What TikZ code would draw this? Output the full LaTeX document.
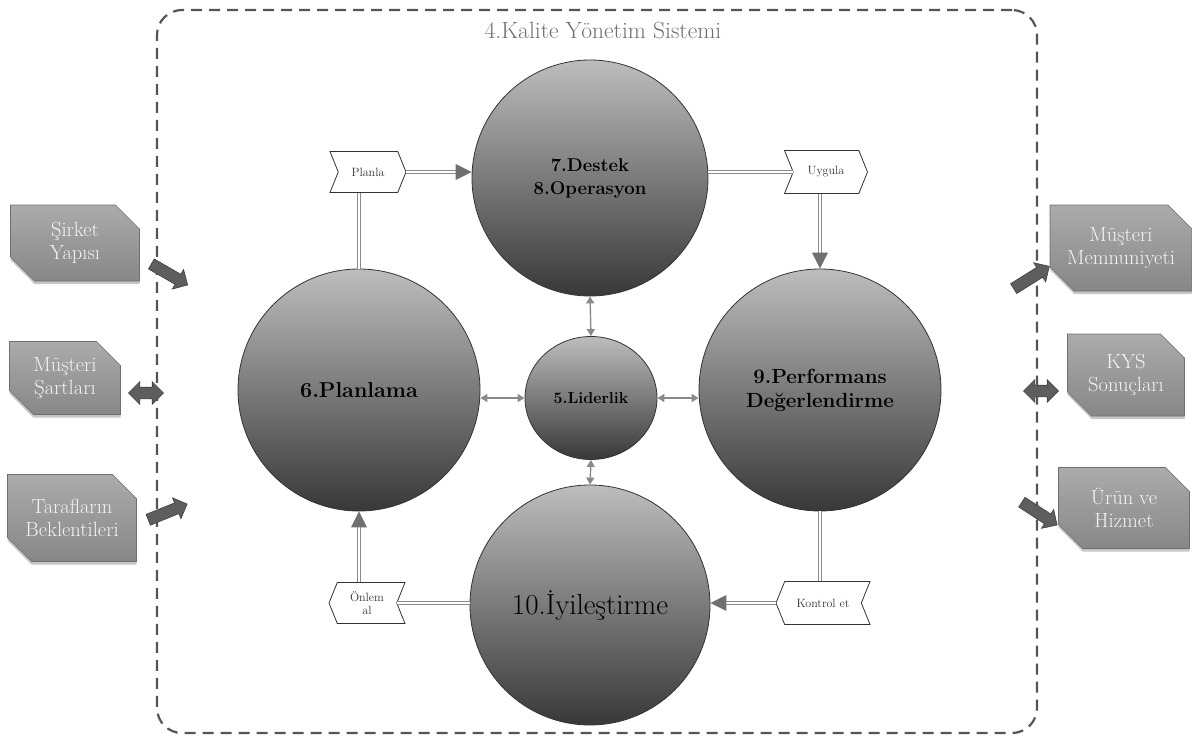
\documentclass[tikz,border=0pt]{standalone}
\usetikzlibrary{shapes.geometric,shapes.symbols,shapes.misc,shapes.arrows,arrows.meta,shadows,calc}
\definecolor{dashc}{HTML}{555555}
\definecolor{titlec}{HTML}{707070}
\definecolor{ctop}{HTML}{BDBDBD}
\definecolor{cbot}{HTML}{383838}
\definecolor{cedge}{HTML}{333333}
\definecolor{btop}{HTML}{ABABAB}
\definecolor{bbot}{HTML}{878787}
\definecolor{bedge}{HTML}{6E6E6E}
\definecolor{btext}{HTML}{F4F4F4}
\definecolor{linec}{HTML}{8A8A8A}
\definecolor{tipc}{HTML}{707070}
\definecolor{arrf}{HTML}{5E5E5E}
\definecolor{arre}{HTML}{3E3E3E}
\definecolor{chevc}{HTML}{333333}
\begin{document}
\begin{tikzpicture}[x=1pt,y=-1pt,
  frame/.style={draw=dashc, line width=2.2pt, dash pattern=on 11pt off 7pt, rounded corners=25pt, minimum width=880pt, minimum height=723pt, inner sep=0},
  circ/.style={circle, draw=cedge, line width=0.8pt, top color=ctop, bottom color=cbot, inner sep=0, align=center, text=black},
  chev/.style={signal, draw=chevc, line width=0.8pt, fill=white, signal pointer angle=136, minimum width=76pt, minimum height=41pt, inner sep=0, align=center, text=chevc, font=\fontsize{12}{13.5}\selectfont},
  gbox/.style={chamfered rectangle, chamfered rectangle corners={north east,south west}, chamfered rectangle xsep=12pt, chamfered rectangle ysep=12pt, top color=btop, bottom color=bbot, draw=bedge, line width=0.6pt, text=btext, align=center, inner sep=0, font=\fontsize{20.5}{23}\selectfont, drop shadow={shadow xshift=0pt, shadow yshift=-3pt, opacity=0.45}},
  dbl/.style={draw=linec, double=white, double distance=2.2pt, line width=1pt},
  lid/.style={draw=linec, line width=1.4pt, {Triangle[length=7pt,width=8pt]}-{Triangle[length=7pt,width=8pt]}},
  barr/.style={single arrow, single arrow head extend=5.5pt, single arrow head indent=0pt, fill=arrf, draw=arre, line width=0.6pt, minimum height=42pt, inner xsep=0pt, inner ysep=5.5pt},
  bdarr/.style={double arrow, double arrow head extend=5.5pt, fill=arrf, draw=arre, line width=0.6pt, minimum height=35pt, inner xsep=0pt, inner ysep=5.5pt}
]
\useasboundingbox (0,0) rectangle (1192,742);

\node[frame] (frame) at (597,371.5) {};
\node[text=titlec, font=\fontsize{23.5}{27}\selectfont] (title) at (603,30) {4.Kalite Yönetim Sistemi};

% circles
\node[circ, minimum size=236pt, font=\bfseries\fontsize{18.5}{23}\selectfont] (c7) at (590,178) {7.Destek\\8.Operasyon};
\node[circ, minimum size=242pt, font=\bfseries\fontsize{21.5}{24}\selectfont] (c6) at (359,390) {6.Planlama};
\node[circ, minimum size=242pt, font=\bfseries\fontsize{20.5}{24}\selectfont] (c9) at (820,390) {9.Performans\\Değerlendirme};
\node[circ, minimum size=240pt, font=\fontsize{29}{32}\selectfont] (c10) at (590,605) {10.İyileştirme};
\node[ellipse, draw=cedge, line width=0.8pt, top color=ctop, bottom color=cbot, inner sep=0, minimum width=132pt, minimum height=123pt, font=\bfseries\fontsize{16}{19}\selectfont] (lid) at (591,398) {5.Liderlik};

% leadership arrows
\draw[lid] (c7.south) -- (lid.north);
\draw[lid] (lid.south) -- (c10.north);
\draw[lid] (c6.east |- lid.west) -- (lid.west);
\draw[lid] (lid.east) -- (c9.west |- lid.east);

% chevrons
\node[chev, signal to=east, signal from=west] (planla) at (368,172) {Planla};
\node[chev, signal to=east, signal from=west, minimum width=83pt, minimum height=43pt] (uygula) at (826,172) {Uygula};
\node[chev, signal to=west, signal from=east] (onlem) at (367,603) {Önlem\\al};
\node[chev, signal to=west, signal from=east, minimum width=94pt, minimum height=43pt] (kontrol) at (823,603) {Kontrol et};

% PDCA double connectors
\coordinate (p1) at (planla.east -| c7.west);
\draw[dbl, shorten >=13pt] (planla.east) -- (p1);
\fill[tipc] (p1) -- ($(p1)+(-16,-8)$) -- ($(p1)+(-16,8)$) -- cycle;

\draw[dbl] (c7.east |- uygula.west) -- (uygula.west);

\coordinate (p2a) at (c9.north |- uygula.south);
\draw[dbl, shorten >=13pt] (p2a) -- (c9.north);
\fill[tipc] (c9.north) -- ($(c9.north)+(-8,-16)$) -- ($(c9.north)+(8,-16)$) -- cycle;

\draw[dbl] (c9.south) -- (c9.south |- kontrol.north);

\coordinate (p3) at (kontrol.west -| c10.east);
\draw[dbl, shorten >=13pt] (kontrol.west) -- (p3);
\fill[tipc] (p3) -- ($(p3)+(16,-8)$) -- ($(p3)+(16,8)$) -- cycle;

\draw[dbl] (c10.west |- onlem.east) -- (onlem.east);

\coordinate (p4a) at (c6.south |- onlem.north);
\draw[dbl, shorten >=13pt] (p4a) -- (c6.south);
\fill[tipc] (c6.south) -- ($(c6.south)+(-8,16)$) -- ($(c6.south)+(8,16)$) -- cycle;

\draw[dbl] (c6.north) -- (c6.north |- planla.south);

% input boxes
\node[gbox, minimum width=129pt, minimum height=76pt] (sirket) at (75,243) {Şirket\\Yapısı};
\node[gbox, minimum width=111pt, minimum height=73pt] (msart) at (65,378) {Müşteri\\Şartları};
\node[gbox, minimum width=129pt, minimum height=87pt] (taraf) at (72,518) {Tarafların\\Beklentileri};

% output boxes
\node[gbox, minimum width=142pt, minimum height=86pt] (mmem) at (1121,248) {Müşteri\\Memnuniyeti};
\node[gbox, minimum width=117pt, minimum height=82pt] (kys) at (1126,375) {KYS\\Sonuçları};
\node[gbox, minimum width=131pt, minimum height=81pt] (urun) at (1124,508) {Ürün ve\\Hizmet};

% block arrows
\node[barr, rotate=-30] (a1) at (167,273) {};
\node[bdarr] (a2) at (146,393) {};
\node[barr, rotate=22] (a3) at (165,513) {};
\node[barr, rotate=32] (a4) at (1029,279) {};
\node[bdarr] (a5) at (1041,391) {};
\node[barr, rotate=-33] (a6) at (1037,512) {};
\end{tikzpicture}
\end{document}
